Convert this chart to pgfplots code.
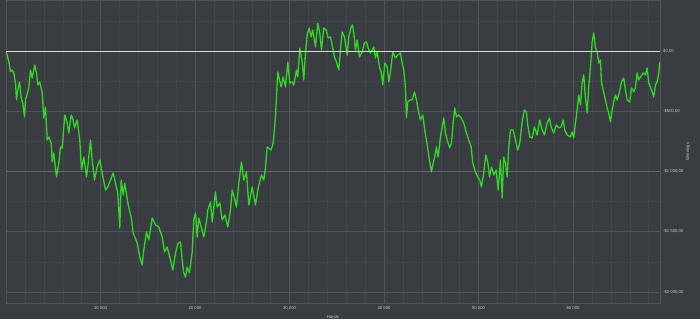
\documentclass[border=0pt]{standalone}
\usepackage{pgfplots}
\pgfplotsset{compat=1.18}
\usepackage{fontspec}
\setmainfont{Liberation Sans}
\definecolor{bg}{RGB}{57,60,64}
\definecolor{gridmaj}{RGB}{80,83,87}
\definecolor{gridmin}{RGB}{66,69,73}
\definecolor{gridbright}{RGB}{98,101,104}
\definecolor{ticktext}{RGB}{205,205,205}
\definecolor{curve}{RGB}{50,215,40}
\definecolor{zeroline}{RGB}{218,218,218}
\begin{document}
\begin{tikzpicture}[x=1pt,y=1pt]
\fill[bg] (-6,-16) rectangle (694,303);
\useasboundingbox (-6,-16) rectangle (694,303);
\begin{axis}[at={(0,0)}, anchor=south west, scale only axis,
 width=654pt, height=303pt,
 xmin=0, xmax=69200, ymin=-2092, ymax=423,
 scaled x ticks=false, scaled y ticks=false,
 axis line style={draw=gridmaj},
 xtick={10000,20000,30000,40000,50000,60000},
 xticklabels={10 000,20 000,30 000,40 000,50 000,60 000},
 minor xtick={0,2000,...,68000},
 ytick={-2000,-1500,-1000,-500,0},
 yticklabels={-\$2 000{,}00,-\$1 500{,}00,-\$1 000{,}00,-\$500{,}00,\$0{,}00},
 minor ytick={-2000,-1750,...,250},
 yticklabel pos=right,
 grid=both,
 major grid style={draw=gridmaj, line width=0.5pt},
 minor grid style={draw=gridmin, line width=0.4pt},
 major tick length=0pt, minor tick length=0pt,
 tick style={draw=none},
 ticklabel style={font=\fontsize{4.2}{5}\selectfont, text=ticktext},
 xticklabel style={anchor=north, inner sep=0pt, yshift=-3pt},
 yticklabel style={anchor=west, inner sep=0pt, xshift=3pt},
 xlabel={Hands}, ylabel={Winnings},
 label style={font=\fontsize{4.2}{5}\selectfont, text=ticktext, inner sep=0pt},
 xlabel style={at={(axis description cs:0.5,-0.046)}, anchor=center},
 ylabel style={at={(axis description cs:1.0428,0.5)}, anchor=center},
]
\addplot[gridbright, line width=0.6pt, forget plot] coordinates {(0,-1000) (69200,-1000)};
\addplot[curve, line width=1.3pt, line join=round] coordinates {
(0,0) (296,-89) (476,-172) (656,-158) (825,-182) (1005,-266) (1111,-407) (1248,-324)
(1428,-257) (1608,-390) (1777,-432) (1957,-548) (2063,-407) (2412,-307) (2592,-158)
(2772,-224) (3047,-116) (3227,-183) (3364,-282) (3576,-257) (3830,-349) (3999,-556)
(4179,-465) (4359,-739) (4528,-714) (4782,-764) (4888,-921) (5057,-847) (5343,-1046)
(5586,-930) (5766,-797) (5946,-805) (6221,-531) (6475,-598) (6644,-681) (6898,-531)
(7110,-573) (7247,-639) (7533,-573) (7808,-739) (7988,-988) (8231,-880) (8517,-1046)
(8654,-963) (8940,-739) (9120,-905) (9363,-1071) (9649,-963) (9924,-905) (10178,-1013)
(10527,-1154) (10770,-1129) (11056,-1071) (11342,-1013) (11585,-1096) (11828,-1179)
(12040,-1469) (12188,-1071) (12400,-1195) (12569,-1096) (12929,-1278) (13246,-1378)
(13458,-1511) (13881,-1594) (14156,-1710)
(14410,-1776) (14579,-1652) (14865,-1502) (15108,-1569) (15468,-1386) (15817,-1444)
(16166,-1461) (16526,-1544) (16769,-1668) (17055,-1627) (17404,-1735) (17647,-1818)
(17933,-1677) (18219,-1594) (18462,-1585) (18642,-1735) (18811,-1843) (18991,-1876)
(19171,-1793) (19414,-1843) (19700,-1668) (19869,-1403) (20049,-1345) (20229,-1544)
(20398,-1386) (20652,-1461) (20927,-1544) (21213,-1419) (21350,-1320) (21636,-1253)
(21816,-1419) (22165,-1170) (22345,-1295) (22620,-1262) (22874,-1403) (23149,-1361)
(23467,-1461) (23752,-1320) (23932,-1154) (24175,-1220) (24387,-1295) (24630,-1096)
(24916,-921) (25159,-1071) (25445,-1004) (25688,-1278) (26048,-1129) (26397,-1278)
(26683,-1137) (27032,-1029) (27275,-1071) (27455,-971) (27635,-797)
(28058,-822) (28270,-764) (28513,-548) (28619,-382) (28756,-174) (28936,-241)
(29116,-299) (29328,-216) (29571,-299) (29815,-91) (30026,-266) (30280,-257)
(30449,-282) (30735,-158) (30872,-216) (31084,25) (31338,-91) (31507,-241) (31687,-17)
(31867,133) (32079,191) (32291,116) (32459,174) (32745,33) (32988,232) (33200,149)
(33380,8) (33623,191) (33877,174) (34089,108) (34332,116) (34512,50) (34755,-50)
(34967,-91) (35210,-158) (35390,8) (35570,158) (35813,116) (36099,-33) (36268,116)
(36522,199) (36660,216) (36797,149) (36977,8) (37157,91) (37400,-50) (37686,-8)
(37929,66) (38141,75) (38384,8) (38564,-17) (38913,33) (39093,-58) (39273,-8)
(39516,-133) (39696,-174) (39865,-282) (40077,-100) (40331,-133) (40500,-257)
(40680,-174) (40923,-8) (41209,-58) (41452,-33) (41738,-17) (41918,-100) (42087,-158)
(42267,-307) (42373,-556) (42510,-423) (42722,-407) (42976,-407) (43219,-340)
(43431,-407) (43674,-515) (43854,-573) (44097,-531) (44309,-656) (44563,-780)
(44806,-905) (45018,-1004) (45198,-930) (45367,-880) (45547,-797) (45727,-880)
(45970,-714) (46150,-631) (46319,-556) (46499,-681) (46742,-755) (46954,-805)
(47134,-764) (47314,-598) (47483,-473) (47663,-548) (47906,-531) (48160,-556)
(48435,-598) (48689,-672) (48964,-739) (49218,-797) (49387,-930) (49672,-1004)
(49916,-1046) (50127,-1071) (50307,-1129) (50551,-1013) (50763,-863) (50974,-921)
(51154,-1046) (51366,-963) (51609,-1029) (51863,-988) (52075,-1154) (52244,-988)
(52318,-905) (52498,-1220) (52667,-880) (52847,-930) (53027,-1046) (53196,-797)
(53376,-656) (53661,-656) (53905,-739) (54148,-822) (54360,-764) (54614,-589)
(54857,-490) (55069,-506) (55206,-614) (55418,-714)
(55672,-722) (55915,-631) (56201,-697) (56476,-573) (56730,-656) (56973,-697)
(57259,-598) (57502,-556) (57682,-631) (57957,-681) (58243,-614) (58486,-639)
(58740,-631) (58952,-573) (59121,-656) (59375,-697) (59724,-714) (59904,-672)
(60073,-722) (60253,-598) (60433,-490) (60602,-365) (60782,-448) (60962,-266)
(61131,-199) (61311,-390) (61491,-515) (61660,-299) (61840,-133) (62020,75)
(62189,149) (62369,25) (62549,-8) (62718,-100) (62898,-75) (63004,-257) (63184,-324)
(63427,-407) (63607,-473) (63776,-515) (63956,-589) (64136,-490) (64305,-423)
(64485,-365) (64665,-407) (64908,-340) (65120,-257) (65363,-224) (65543,-324)
(65723,-407) (65998,-423) (66178,-307) (66421,-340) (66601,-307) (66781,-183)
(66950,-241) (67130,-216) (67416,-183) (67659,-199) (67839,-141) (68008,-266)
(68188,-299) (68368,-340) (68537,-382) (68717,-282) (68897,-257) (69066,-183)
(69172,-91)
};
\addplot[zeroline, line width=0.9pt] coordinates {(0,0) (69200,0)};
\end{axis}
\end{tikzpicture}
\end{document}
